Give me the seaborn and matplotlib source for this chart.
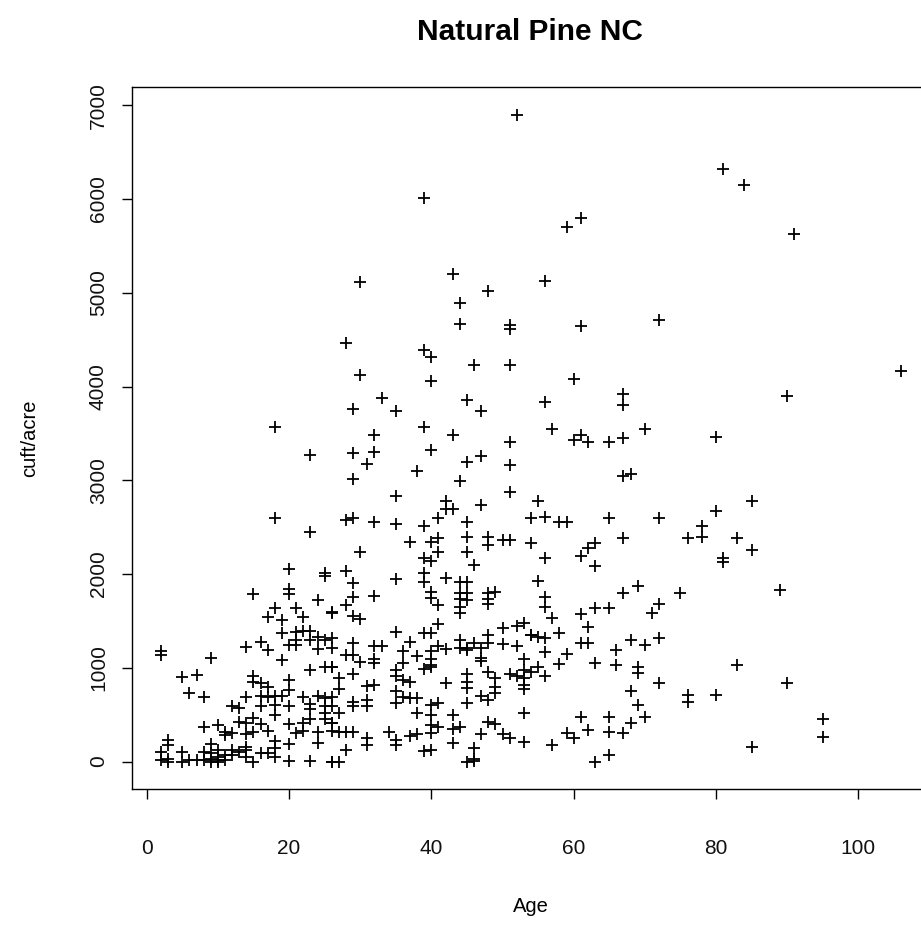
import matplotlib
matplotlib.use("Agg")
import matplotlib.pyplot as plt
import seaborn as sns
import pandas as pd

# Age (years) and volume (cuft/acre)
age_top = [52, 39, 30, 43, 48, 44, 44, 51, 51, 81, 59, 61, 56, 61, 72, 84, 91,
           28, 39, 40, 46, 51, 30, 40, 33, 45, 29, 35, 47, 39, 43, 32, 51, 29, 32, 40,
           45, 47, 31, 51, 38, 29, 44, 51, 35, 55, 42, 42, 43, 47, 28, 29, 32, 35, 39,
           41, 45, 54, 37, 40, 41, 45, 48, 48, 50, 51, 54, 30, 39, 41, 45,
           60, 56, 67, 67, 57, 70, 60, 61, 62, 65, 67, 80, 67, 68, 56, 58, 59, 65, 72,
           80, 78, 78, 76, 67, 56, 61, 62, 63, 81, 106, 90, 85, 83, 85, 18, 23, 18, 23]
vol_top = [6900, 6010, 5110, 5200, 5020, 4890, 4670, 4660, 4610, 6320, 5700, 5800, 5130, 4650, 4710, 6150, 5630,
           4460, 4390, 4310, 4225, 4225, 4120, 4060, 3880, 3860, 3760, 3740, 3740, 3570, 3480, 3480, 3410, 3290, 3300, 3320,
           3190, 3260, 3170, 3160, 3100, 3010, 2990, 2870, 2830, 2780, 2780, 2690, 2690, 2740, 2580, 2600, 2550, 2530, 2510,
           2600, 2560, 2600, 2340, 2340, 2380, 2400, 2400, 2310, 2360, 2360, 2330, 2230, 2170, 2230, 2240,
           4080, 3830, 3920, 3800, 3550, 3550, 3430, 3480, 3410, 3410, 3450, 3460, 3050, 3070, 2610, 2550, 2560, 2600, 2600,
           2670, 2510, 2400, 2380, 2380, 2170, 2190, 2280, 2330, 2170, 4165, 3900, 2780, 2380, 2255, 3570, 3265, 2600, 2450]

age_young = [20, 25, 25, 15, 20, 20, 24, 18, 17, 19, 21, 22, 26, 19, 21, 21, 22, 23, 23, 24, 25, 24, 20, 21,
             2, 2, 14, 16, 17, 9, 19, 5, 7, 6, 8, 15, 15, 23, 25, 26, 20, 20, 16, 17, 16, 17, 18, 14, 12, 13,
             16, 18, 18, 19, 20, 22, 24, 25, 25, 8, 10, 11, 11, 12, 13, 14, 14, 15, 15, 16, 17, 18, 18, 20,
             20, 21, 22, 22, 23, 23, 23, 24, 24, 25, 25, 26, 26,
             3, 3, 2, 3, 2, 3, 5, 5, 6, 7, 8, 9, 9, 10, 10, 11, 12, 12, 13, 14, 14, 14, 15, 16, 17, 18, 20, 23, 26,
             9, 10, 9, 11, 8, 10]
vol_young = [2050, 2010, 1980, 1790, 1840, 1790, 1720, 1640, 1540, 1510, 1640, 1540, 1580, 1370, 1380, 1300, 1390, 1390, 1300, 1330, 1300, 1200, 1240, 1240,
             1180, 1140, 1220, 1270, 1190, 1100, 1080, 900, 920, 730, 690, 910, 850, 980, 1010, 1010, 870, 760, 840, 800, 700, 690, 700, 690, 590, 570,
             590, 600, 500, 700, 590, 690, 700, 680, 590, 370, 390, 320, 280, 300, 420, 410, 290, 320, 460, 400, 330, 220, 140, 400,
             190, 300, 410, 330, 610, 450, 560, 320, 200, 520, 450, 410, 330,
             230, 180, 100, 30, 20, 0, 100, 0, 20, 20, 20, 190, 90, 20, 0, 70, 120, 70, 100, 160, 120, 50, 0, 90, 90, 50, 10, 10, 0,
             30, 50, 0, 20, 100, 120]

age_mid = [40, 46, 28, 35, 39, 39, 42, 44, 45, 44, 45, 44, 45, 44, 44, 48, 48, 49, 48, 29, 29, 28, 32, 40, 40, 41,
           26, 29, 30, 41, 39, 40, 35, 50, 52, 53, 54, 44, 45, 46, 47, 48, 48, 50, 52, 26, 26, 29, 28, 29, 32, 33,
           37, 36, 38, 41, 42, 40, 40, 40, 39, 40, 44, 45, 47, 47, 26, 30, 32, 32, 36, 35, 48, 53, 53, 29, 27, 35,
           36, 37, 42, 45, 45, 45, 49, 49, 49, 51, 52, 53, 53, 53, 31, 32, 27, 26, 35, 35, 36, 37, 38, 29, 29, 31,
           31, 26, 27, 40, 41, 38, 40, 40, 43, 45, 47, 48, 53, 48, 49, 41, 43, 44, 26, 27, 28, 29, 34, 31, 31, 35,
           35, 37, 38, 40, 43, 47, 50, 51, 53, 28, 39, 40, 46, 46, 45, 46, 26, 27]
vol_mid = [2140, 2100, 2030, 1950, 2010, 1920, 1960, 1920, 1920, 1800, 1800, 1730, 1720, 1650, 1580, 1800, 1730, 1810, 1680, 1900, 1760, 1670, 1770, 1810, 1740, 1670,
           1590, 1550, 1520, 1470, 1370, 1370, 1380, 1420, 1450, 1480, 1350, 1300, 1210, 1260, 1210, 1350, 1260, 1250, 1230, 1320, 1210, 1260, 1140, 1140, 1230, 1230,
           1280, 1180, 1130, 1230, 1200, 1180, 1090, 1030, 990, 1010, 1210, 1190, 1100, 1070, 1010, 1060, 1090, 1050, 1050, 980, 960, 1090, 980, 930, 890, 910,
           870, 850, 840, 930, 850, 780, 890, 800, 730, 930, 910, 890, 820, 770, 810, 820, 770, 690, 750, 620, 690, 680, 680, 640, 590, 660,
           590, 590, 520, 600, 620, 520, 500, 390, 500, 620, 700, 660, 520, 420, 400, 370, 350, 370, 410, 320, 320, 320, 320, 250, 180, 230,
           180, 270, 290, 300, 200, 290, 290, 250, 210, 120, 110, 120, 140, 30, 0, 10, 0, 0]

age_old = [63, 81, 55, 56, 56, 57, 54, 55, 56, 58, 56, 55, 56, 54, 59, 58, 61, 62, 61, 62, 63, 65, 67, 69, 71, 72,
           75, 63, 66, 66, 68, 70, 72, 69, 69, 72, 68, 69, 70, 68, 67, 65, 65, 61, 62, 59, 60, 57, 63, 65, 76, 76, 80,
           89, 83, 90, 85, 95, 95]
vol_old = [2090, 2130, 1930, 1750, 1650, 1530, 1350, 1330, 1320, 1370, 1170, 1010, 910, 960, 1150, 1040, 1570, 1430, 1260, 1260, 1640, 1640, 1800, 1870, 1580, 1680,
           1800, 1050, 1190, 1030, 1300, 1240, 1320, 1010, 940, 840, 750, 600, 480, 410, 300, 320, 470, 470, 340, 300, 250, 180, 0, 70, 710, 640, 710,
           1830, 1030, 840, 150, 450, 260]

df = pd.DataFrame({
    "Age": age_top + age_young + age_mid + age_old,
    "cuft/acre": vol_top + vol_young + vol_mid + vol_old,
})

sns.set_style("white")
plt.rcParams["font.family"] = ["Liberation Sans", "DejaVu Sans"]
plt.rcParams["text.color"] = "black"
plt.rcParams["axes.labelcolor"] = "black"

W, H = 921, 926
fig = plt.figure(figsize=(W / 100, H / 100), dpi=100)
left, right, top, bottom = 131.5, 930.6, 87.0, 789.3
ax = fig.add_axes([left / W, 1 - bottom / H, (right - left) / W, (bottom - top) / H])

sns.scatterplot(data=df, x="Age", y="cuft/acre", marker="+", color="black",
                s=80, linewidth=1.3, ax=ax, legend=False)

ax.set_xlim(-2.14, 110.16)
ax.set_ylim(-296, 7195)
ax.set_xticks([0, 20, 40, 60, 80, 100])
ax.set_yticks([0, 1000, 2000, 3000, 4000, 5000, 6000, 7000])

for s in ax.spines.values():
    s.set_visible(True)
    s.set_color("black")
    s.set_linewidth(1.0)

ax.tick_params(axis="both", which="major", bottom=True, left=True, top=False, right=False,
               direction="out", length=7, width=1.0, color="black",
               labelsize=15, labelcolor="#111111")
ax.tick_params(axis="x", pad=29)
ax.tick_params(axis="y", pad=10, labelrotation=90)
for lbl in ax.get_yticklabels():
    lbl.set_verticalalignment("center")

ax.set_xlabel("Age", fontsize=14.5, labelpad=28, color="black")
ax.set_ylabel("cuft/acre", fontsize=14.5, labelpad=36, color="black")
fig.text(530 / W, 1 - 32 / H, "Natural Pine NC", ha="center", va="center",
         fontsize=21.5, fontweight="bold", color="black")

fig.savefig("out.png", dpi=100)
